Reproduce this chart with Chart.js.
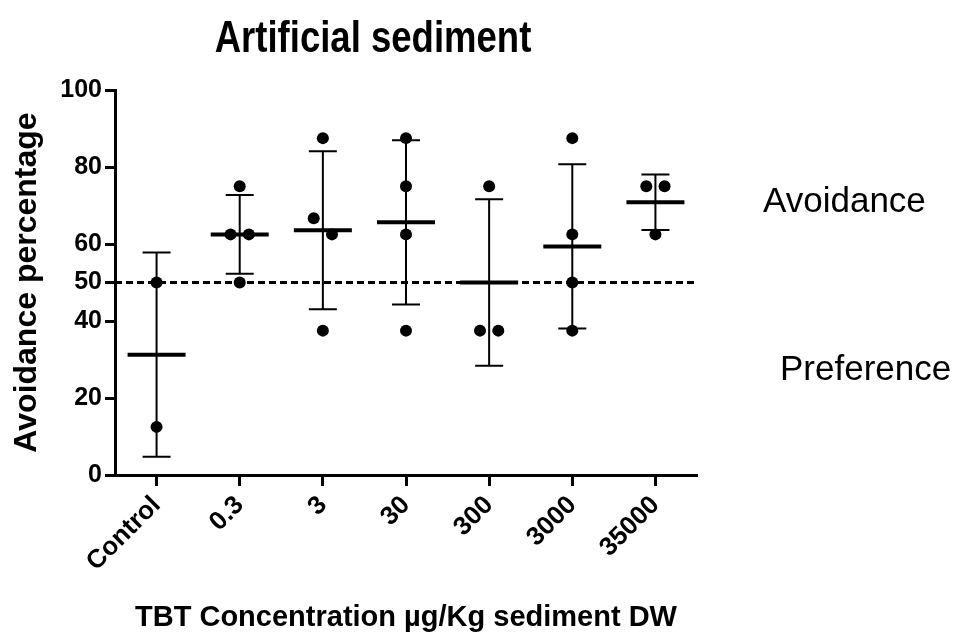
<!DOCTYPE html>
<html><head><meta charset="utf-8">
<script src="https://cdn.jsdelivr.net/npm/chart.js@4.4.0/dist/chart.umd.min.js"></script>
<style>html,body{margin:0;padding:0;background:#fff}#wrap{width:961px;height:637px;position:relative}</style>
</head><body><div id="wrap"><canvas id="c"></canvas></div>
<script>
// ---- data ----
const categories = ['Control', '0.3', '3', '30', '300', '3000', '35000'];
const controlValues = [50, 12.5];
const tbt0_3Values = [75, 62.5, 62.5, 50];
const tbt3Values = [87.5, 66.7, 62.5, 37.5];
const tbt30Values = [87.5, 75, 62.5, 37.5];
const tbt300Values = [75, 37.5, 37.5];
const tbt3000Values = [87.5, 62.5, 50, 37.5];
const tbt35000Values = [75, 75, 62.5];
const yTickValues = [0, 20, 40, 50, 60, 80, 100];
const referenceLevel = 50;
const chartTitle = 'Artificial sediment';
const xTitle = 'TBT Concentration µg/Kg sediment DW';
const yTitle = 'Avoidance percentage';
const upperLabel = 'Avoidance';
const lowerLabel = 'Preference';

const groups = [controlValues, tbt0_3Values, tbt3Values, tbt30Values, tbt300Values, tbt3000Values, tbt35000Values];

// side-by-side placement of overlapping dots (in category units)
function spread(vals) {
  const idx = vals.map((v, i) => i).sort((a, b) => vals[b] - vals[a]);
  const off = new Array(vals.length).fill(0);
  let k = 0;
  while (k < idx.length) {
    let j = k;
    while (j + 1 < idx.length && vals[idx[j]] - vals[idx[j + 1]] < 5) j++;
    const n = j - k + 1;
    for (let m = 0; m < n; m++) off[idx[k + m]] = (m - (n - 1) / 2) * 0.22;
    k = j + 1;
  }
  return off;
}
function mean(a) { return a.reduce((s, v) => s + v, 0) / a.length; }
function sd(a) { const m = mean(a); return Math.sqrt(a.reduce((s, v) => s + (v - m) * (v - m), 0) / (a.length - 1)); }

const points = [];
groups.forEach((vals, i) => {
  const off = spread(vals);
  vals.forEach((v, j) => points.push({ x: i + off[j], y: v }));
});

const FONT = "'Liberation Sans', Arial, sans-serif";

const extras = {
  id: 'extras',
  beforeDatasetsDraw(chart) {
    const { ctx, chartArea, scales: { x, y } } = chart;
    ctx.save();
    ctx.strokeStyle = '#000';
    ctx.lineWidth = 3;
    ctx.setLineDash([7, 4]);
    const ry = y.getPixelForValue(referenceLevel);
    ctx.beginPath(); ctx.moveTo(chartArea.left, ry); ctx.lineTo(chartArea.right, ry); ctx.stroke();
    ctx.setLineDash([]);
    groups.forEach((vals, i) => {
      const cx = x.getPixelForValue(i);
      const m = mean(vals), s = sd(vals);
      const yt = y.getPixelForValue(m + s), yb = y.getPixelForValue(m - s), ym = y.getPixelForValue(m);
      ctx.lineWidth = 2;
      ctx.beginPath();
      ctx.moveTo(cx, yt); ctx.lineTo(cx, yb);
      ctx.moveTo(cx - 14, yt); ctx.lineTo(cx + 14, yt);
      ctx.moveTo(cx - 14, yb); ctx.lineTo(cx + 14, yb);
      ctx.stroke();
      ctx.lineWidth = 4;
      ctx.beginPath(); ctx.moveTo(cx - 29, ym); ctx.lineTo(cx + 29, ym); ctx.stroke();
    });
    ctx.restore();
  },
  afterDraw(chart) {
    const { ctx, chartArea } = chart;
    ctx.save();
    ctx.fillStyle = '#000';
    ctx.textBaseline = 'alphabetic';
    ctx.textAlign = 'center';
    ctx.font = "bold 44px " + FONT;
    ctx.save();
    ctx.translate((chartArea.left + chartArea.right) / 2 - 33, 52);
    ctx.scale(0.83, 1);
    ctx.fillText(chartTitle, 0, 0);
    ctx.restore();
    ctx.textAlign = 'left';
    ctx.font = "35px " + FONT;
    ctx.fillText(upperLabel, chartArea.right + 66, 212);
    ctx.fillText(lowerLabel, chartArea.right + 83, 380);
    ctx.restore();
  }
};

new Chart(document.getElementById('c'), {
  type: 'scatter',
  data: {
    datasets: [{
      data: points,
      backgroundColor: '#000',
      borderWidth: 0,
      pointRadius: 6,
      pointHoverRadius: 6
    }]
  },
  options: {
    responsive: true,
    maintainAspectRatio: false,
    animation: false,
    events: [],
    layout: { padding: { top: 90, right: 264, left: 0, bottom: 0 } },
    plugins: { legend: { display: false }, tooltip: { enabled: false }, title: { display: false } },
    scales: {
      x: {
        type: 'linear',
        min: -0.5,
        max: categories.length - 0.5,
        afterBuildTicks: s => { s.ticks = categories.map((c, i) => ({ value: i })); },
        afterFit: s => { s.height = 162; },
        ticks: {
          callback: v => categories[v],
          autoSkip: false,
          minRotation: 45,
          maxRotation: 45,
          color: '#000',
          padding: 4,
          font: { family: FONT, size: 26, weight: 'bold' }
        },
        grid: { drawOnChartArea: false, drawTicks: true, tickLength: 11, tickWidth: 3, tickColor: '#000' },
        border: { display: true, color: '#000', width: 3 },
        title: { display: true, text: xTitle, color: '#000', padding: { top: 0, bottom: 2 }, font: { family: FONT, size: 29, weight: 'bold' } }
      },
      y: {
        min: 0,
        max: 100,
        afterBuildTicks: s => { s.ticks = yTickValues.map(v => ({ value: v })); },
        afterFit: s => { s.width = 115; },
        ticks: { color: '#000', padding: 3, font: { family: FONT, size: 25, weight: 'bold' } },
        grid: { drawOnChartArea: false, drawTicks: true, tickLength: 10, tickWidth: 3, tickColor: '#000' },
        border: { display: true, color: '#000', width: 3 },
        title: { display: true, text: yTitle, color: '#000', padding: { top: 8, bottom: 0 }, font: { family: FONT, size: 32, weight: 'bold' } }
      }
    }
  },
  plugins: [extras]
});
</script></body></html>
